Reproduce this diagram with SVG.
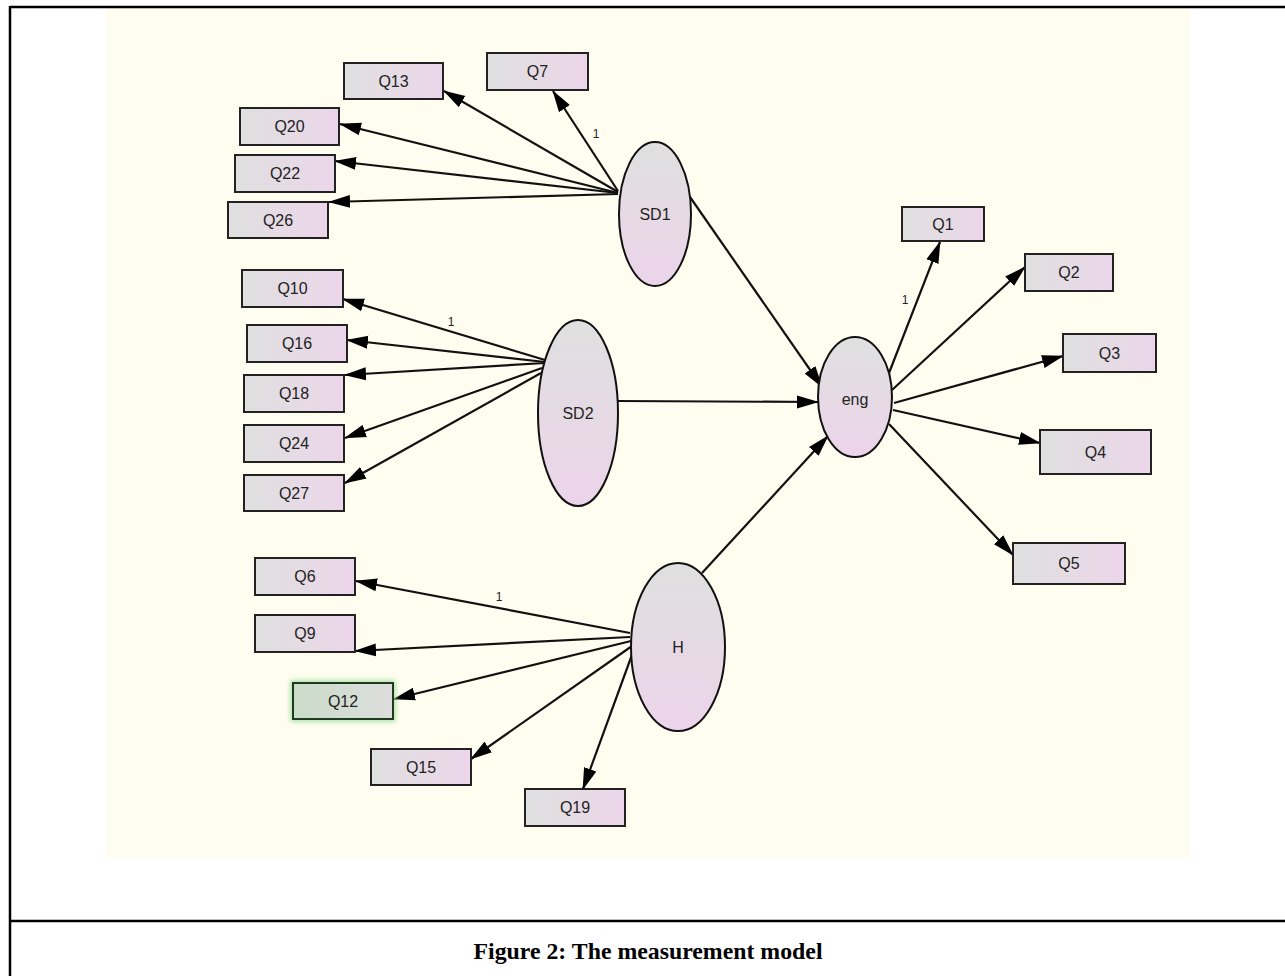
<svg xmlns="http://www.w3.org/2000/svg" width="1285" height="976" viewBox="0 0 1285 976">
<defs>
<linearGradient id="boxg" x1="0" y1="0" x2="1" y2="0">
<stop offset="0" stop-color="#dfe0df"/>
<stop offset="1" stop-color="#ecd6ea"/>
</linearGradient>
<linearGradient id="boxgreen" x1="0" y1="0" x2="1" y2="0">
<stop offset="0" stop-color="#c9dcc9"/>
<stop offset="1" stop-color="#dddddd"/>
</linearGradient>
<linearGradient id="ellg" x1="0" y1="0" x2="0" y2="1">
<stop offset="0" stop-color="#dfe0df"/>
<stop offset="1" stop-color="#ecd4ea"/>
</linearGradient>
<filter id="glow" x="-20%" y="-40%" width="140%" height="180%">
<feGaussianBlur stdDeviation="2.5"/>
</filter>
<marker id="arr" markerUnits="userSpaceOnUse" markerWidth="22" markerHeight="14" refX="21" refY="7" orient="auto">
<path d="M0,0.5 L22,7 L0,13.5 z" fill="#000"/>
</marker>
</defs>
<style>
.box{fill:url(#boxg);stroke:#222;stroke-width:2}
.ell{fill:url(#ellg);stroke:#111;stroke-width:2}
.lbl{font-family:"Liberation Sans",Arial,sans-serif;font-size:16px;fill:#222;text-anchor:middle;dominant-baseline:central}
.one{font-family:"Liberation Sans",Arial,sans-serif;font-size:12px;fill:#222;text-anchor:middle;dominant-baseline:central}
.con line{stroke:#111;stroke-width:2.2;marker-end:url(#arr)}
</style>
<rect x="0" y="0" width="1285" height="976" fill="#fff"/>
<rect x="106" y="8" width="1084" height="850" fill="#fffdf0"/>
<g id="frame" stroke="#000" stroke-width="2.5">
<line x1="10" y1="7" x2="1285" y2="7"/>
<line x1="10" y1="6" x2="10" y2="976"/>
<line x1="10" y1="921" x2="1285" y2="921"/>
</g>
<g class="con" id="connectors">
<line x1="618" y1="191" x2="553" y2="91"/>
<line x1="618" y1="192" x2="444" y2="91"/>
<line x1="618" y1="193" x2="340" y2="124"/>
<line x1="618" y1="193" x2="335" y2="161"/>
<line x1="618" y1="194" x2="329" y2="202"/>
<line x1="545" y1="360" x2="343" y2="299"/>
<line x1="545" y1="362" x2="347" y2="340"/>
<line x1="545" y1="363" x2="345" y2="375"/>
<line x1="542" y1="368" x2="345" y2="438"/>
<line x1="541" y1="373" x2="345" y2="483"/>
<line x1="630" y1="633" x2="356" y2="581"/>
<line x1="630" y1="637" x2="355" y2="651"/>
<line x1="631" y1="641" x2="394" y2="699"/>
<line x1="632" y1="646" x2="471" y2="759"/>
<line x1="633" y1="652" x2="583" y2="789"/>
<line x1="690" y1="197" x2="822" y2="387"/>
<line x1="618" y1="401" x2="818" y2="402"/>
<line x1="702" y1="573" x2="828" y2="436"/>
<line x1="889" y1="373" x2="940" y2="242"/>
<line x1="892" y1="390" x2="1025" y2="267"/>
<line x1="894" y1="403" x2="1063" y2="356"/>
<line x1="893" y1="410" x2="1040" y2="443"/>
<line x1="889" y1="424" x2="1013" y2="555"/>
</g>
<g id="weights">
<text class="one" x="596" y="134">1</text>
<text class="one" x="451" y="322">1</text>
<text class="one" x="499" y="597">1</text>
<text class="one" x="905" y="300">1</text>
</g>
<g id="SD1"><ellipse class="ell" cx="655" cy="214" rx="36" ry="72"/><text class="lbl" x="655" y="214">SD1</text></g>
<g id="SD2"><ellipse class="ell" cx="578" cy="413" rx="40" ry="93"/><text class="lbl" x="578" y="413">SD2</text></g>
<g id="H"><ellipse class="ell" cx="678" cy="647" rx="47" ry="84"/><text class="lbl" x="678" y="647">H</text></g>
<g id="eng"><ellipse class="ell" cx="855" cy="397" rx="37" ry="60"/><text class="lbl" x="855" y="399">eng</text></g>
<g id="Q13"><rect class="box" x="344" y="63" width="99" height="36"/><text class="lbl" x="393.5" y="81">Q13</text></g>
<g id="Q7"><rect class="box" x="487" y="53" width="101" height="37"/><text class="lbl" x="537.5" y="71">Q7</text></g>
<g id="Q20"><rect class="box" x="240" y="108" width="99" height="37"/><text class="lbl" x="289.5" y="126">Q20</text></g>
<g id="Q22"><rect class="box" x="235" y="155" width="100" height="37"/><text class="lbl" x="285" y="173">Q22</text></g>
<g id="Q26"><rect class="box" x="228" y="202" width="100" height="36"/><text class="lbl" x="278" y="220">Q26</text></g>
<g id="Q10"><rect class="box" x="242" y="270" width="101" height="37"/><text class="lbl" x="292.5" y="288">Q10</text></g>
<g id="Q16"><rect class="box" x="247" y="325" width="100" height="37"/><text class="lbl" x="297" y="343">Q16</text></g>
<g id="Q18"><rect class="box" x="244" y="375" width="100" height="37"/><text class="lbl" x="294" y="393">Q18</text></g>
<g id="Q24"><rect class="box" x="244" y="425" width="100" height="37"/><text class="lbl" x="294" y="443">Q24</text></g>
<g id="Q27"><rect class="box" x="244" y="475" width="100" height="36"/><text class="lbl" x="294" y="493">Q27</text></g>
<g id="Q6"><rect class="box" x="255" y="558" width="100" height="37"/><text class="lbl" x="305" y="576">Q6</text></g>
<g id="Q9"><rect class="box" x="255" y="615" width="100" height="37"/><text class="lbl" x="305" y="633">Q9</text></g>
<g id="Q12"><rect x="293" y="683" width="100" height="36" fill="none" stroke="#9fe09f" stroke-width="5" filter="url(#glow)"/><rect x="293" y="683" width="100" height="36" fill="url(#boxgreen)" stroke="#1f3a1f" stroke-width="2"/><text class="lbl" x="343" y="701">Q12</text></g>
<g id="Q15"><rect class="box" x="371" y="749" width="100" height="36"/><text class="lbl" x="421" y="767">Q15</text></g>
<g id="Q19"><rect class="box" x="525" y="789" width="100" height="37"/><text class="lbl" x="575" y="807">Q19</text></g>
<g id="Q1"><rect class="box" x="902" y="207" width="82" height="34"/><text class="lbl" x="943" y="224">Q1</text></g>
<g id="Q2"><rect class="box" x="1025" y="254" width="88" height="37"/><text class="lbl" x="1069" y="272">Q2</text></g>
<g id="Q3"><rect class="box" x="1063" y="334" width="93" height="38"/><text class="lbl" x="1109.5" y="353">Q3</text></g>
<g id="Q4"><rect class="box" x="1040" y="430" width="111" height="44"/><text class="lbl" x="1095.5" y="452">Q4</text></g>
<g id="Q5"><rect class="box" x="1013" y="543" width="112" height="41"/><text class="lbl" x="1069" y="563">Q5</text></g>
<text x="648" y="959" font-family="'Liberation Serif','Times New Roman',serif" font-weight="bold" font-size="23" text-anchor="middle" textLength="349" lengthAdjust="spacingAndGlyphs" fill="#000">Figure 2: The measurement model</text>
</svg>
